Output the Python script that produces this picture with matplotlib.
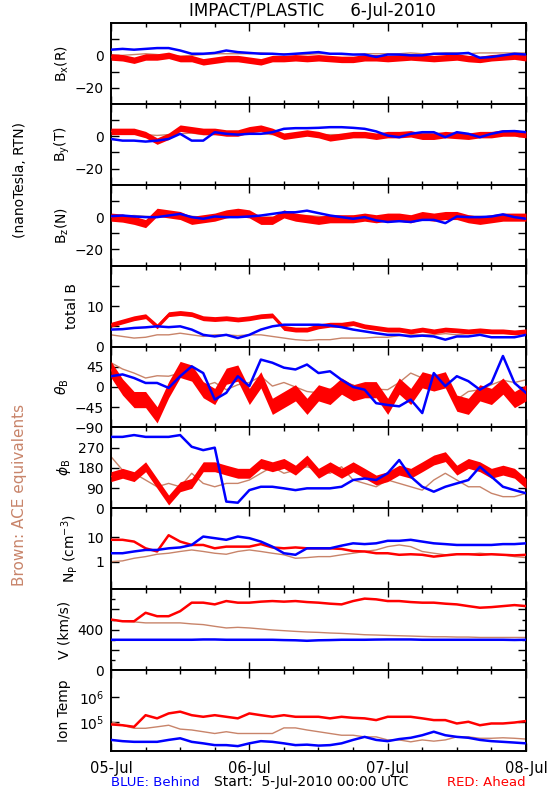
import numpy as np
import pandas as pd
import matplotlib
matplotlib.use('Agg')
import matplotlib.pyplot as plt
import matplotlib.dates as mdates
from matplotlib.ticker import FixedLocator, NullFormatter

# sample times, every 2 hours over 5-Jul .. 8-Jul 2010
times = pd.date_range('2010-07-05 00:00', '2010-07-08 00:00', freq='2h')

# B_x (R), nT
blue_bx = [3.5, 4, 3.5, 4, 4.5, 4.5, 3, 1, 1, 1.5, 3, 2, 1.5, 1, 1, 0.5, 1, 1.5, 2, 1,
           1, 0.5, 0.5, -1, 0.5, 0.5, 0, 0, 1, 1, 1, 1.5, -1.5, -1, 0, 1, 0.5]
red_bx = [-1, -1.5, -3, -1, -1, 0, -2, -2, -4, -3, -2, -2, -3, -4, -2, -2, -1.5, -2, -1.5, -2,
          -2.5, -2.5, -1.5, -1.5, -2, -1.5, -1, -1.5, -2, -1.5, -1, -2, -2.5, -1.5, -1, -0.5, -1.5]
brown_bx = [0, 0, 0.5, 1, 0.5, 0, -0.5, 0, 0.5, 1, 1, 1, 1, 1.5, 1, 1, 0.5, 0.5, 1, 1,
            0.5, 0.5, 1, 1, 1, 1, 1.5, 1, 1, 1.5, 1.5, 1, 1.5, 1.5, 1.5, 1.5, 1.5]

# B_y (T)
blue_by = [-1.7, -2.7, -2.7, -3.3, -2.7, -1.7, 1.5, -2.7, -2.7, 2.5, 1.5, 1, 1.5, 1.5, 2.5, 4.6, 5, 5, 5.2, 5.6,
           5.6, 5.2, 4.6, 3, 0.4, -0.6, 1.5, 2.5, 2.5, -0.6, 2.5, 1.5, -0.6, 1.5, 3, 3.2, 2.5]
red_by = [3, 3, 3, 1, -3, 0, 5, 4, 3, 3, 2, 2, 4, 5, 3, 0, 1, 2, 1, -1,
          0, 1, 1, 0, 1, 1, 1.5, 0, 0, 1, 0.5, 0, 1, 1, 2, 2, 1]
brown_by = [2, 2, 1.5, 1, 0.5, 1, 1.5, 2, 1, 1, 1, 1.5, 2, 1.5, 1, 1, 1, 0.5, 1, 1,
            1, 1.5, 1, 0.5, 1, 1, 1, 1.5, 2, 1.5, 1, 1, 1, 1, 1.5, 1, 1]

# B_z (N)
blue_bz = [0.6, 1, 0.4, 0, 0, 1, 2, 0, -1, 0.4, 0, 0, 0.4, 1, 2, 3, 3, 4, 2.5, 1,
           0, -1, 0, -2, -3, -2.5, -3, -1.7, -1.7, -3.7, 0.4, 0, 0, 0.4, 1.7, 0, -1]
red_bz = [0, -0.6, -2, -4, 3, 2, 1, -2, -1, 0, 2, 3, 2, -2, -2, 2, 0, -1, -2, -1,
          -1, -1, 0, -1, 0, 0, -1, 1, 0, 1, 1, -1, -2, -1, 0, 0, 0]
brown_bz = [0.5, 0.5, 1, 0.5, 0, 0.5, 1, 0.5, 0, 0.5, 1, 1, 0.5, 0, 0, 0.5, 1, 1, 0.5, 0,
            0, 0.5, 0.5, 0, 0, 0.5, 0.5, 0, 0.5, 0.5, 1, 0.5, 0.5, 0, 0.5, 0.5, 0.5]

# total B
red_bt = [5.4, 6.2, 7, 7.5, 5, 8, 8.3, 8, 7, 6.8, 7, 6.7, 7, 7.5, 7.7, 4.6, 4.2, 4.2, 5, 5.4,
          5.4, 5.8, 5, 4.6, 4.2, 4.2, 3.75, 4.2, 3.75, 4.2, 4, 3.75, 4, 3.75, 3.75, 3.5, 3.75]
blue_bt = [4.2, 4.3, 4.6, 4.75, 5, 4.8, 5, 4.2, 2.9, 2.5, 2.9, 2.1, 2.9, 4.2, 5, 5.4, 5.4, 5.4, 5.4, 5.2,
           4.8, 4.2, 3.75, 3.3, 2.9, 2.9, 2.5, 2.7, 2.5, 1.7, 2.5, 2.5, 2.9, 2.3, 2.3, 2.3, 2.9]
brown_bt = [2.9, 2.5, 2.1, 2.3, 2.9, 2.9, 3.3, 2.9, 2.5, 2.9, 2.9, 2.7, 2.9, 2.9, 2.5, 2.1, 1.7, 1.5, 1.7, 1.7,
            2.1, 2.1, 2.1, 2.3, 2.3, 2.7, 2.9, 2.9, 2.9, 3.2, 2.9, 3.2, 3.2, 3.3, 3.3, 3.3, 3.3]

# theta_B, degrees
blue_th = [24, 28, 20, 9, 9, -2, 24, 46, 31, -28, -13, 24, 2, 61, 54, 43, 39, 50, 31, 35,
           16, 0, -6, -36, -40, -43, -28, -58, 31, 2, 24, 13, -6, 9, 69, 9, -13]
red_th = [39, 0, -28, -28, -62, -6, 39, 31, -6, -21, 24, 31, -21, 16, -43, -28, -13, -43, -13, -21,
          2, -13, -6, -6, -43, 2, -21, 16, 9, 16, -36, -43, -13, -21, 2, -28, -13]
brown_th = [54, 40, 31, 20, 25, 24, 31, 16, 2, 10, -6, 5, 10, 24, 2, 10, 0, -10, -13, -5,
            9, 5, -13, -5, -6, 10, 31, 20, 9, 5, -28, -10, -6, 5, 15, 10, 16]

# phi_B, degrees
blue_ph = [318, 318, 326, 318, 318, 318, 326, 274, 259, 270, 30, 25, 81, 96, 96, 89, 81, 89, 89, 89,
           96, 126, 133, 126, 156, 215, 141, 96, 74, 96, 111, 126, 185, 141, 96, 81, 67]
red_ph = [141, 156, 141, 185, 111, 37, 96, 111, 185, 185, 170, 156, 156, 200, 185, 200, 170, 215, 156, 185,
          156, 185, 156, 126, 141, 170, 156, 185, 215, 230, 170, 200, 185, 156, 170, 156, 111]
brown_ph = [230, 170, 156, 126, 96, 111, 96, 156, 111, 96, 111, 111, 126, 156, 185, 156, 170, 185, 170, 156,
            185, 126, 111, 96, 126, 111, 96, 81, 126, 156, 126, 96, 96, 67, 52, 52, 67]

# proton density, cm^-3
red_np = [7.8, 7.8, 6.6, 3.5, 2.6, 12, 6.6, 4.8, 4.8, 3.5, 4.1, 4.1, 4.1, 5.2, 3.8, 3.5, 3.8, 3.5, 3.5, 3.5,
          3.3, 2.7, 2.6, 2.2, 2.2, 1.9, 2.0, 1.9, 1.6, 1.8, 2.0, 2.0, 1.9, 2.0, 1.9, 1.8, 1.9]
blue_np = [2.2, 2.2, 2.6, 3.0, 3.0, 3.5, 3.8, 4.8, 10.6, 9.1, 7.8, 10.6, 9.1, 6.6, 4.1, 2.2, 1.9, 3.5, 3.5, 3.5,
           4.5, 5.6, 5.2, 5.6, 7.1, 7.1, 7.8, 6.6, 5.6, 5.2, 4.8, 4.8, 4.8, 4.8, 5.2, 5.2, 5.6]
brown_np = [1.0, 1.07, 1.37, 1.6, 2.0, 2.2, 2.6, 3.0, 2.6, 2.2, 2.0, 2.6, 3.0, 2.6, 2.2, 1.9, 1.37, 1.46, 1.6, 1.6,
            1.9, 2.2, 2.6, 3.0, 4.1, 4.8, 4.1, 2.6, 2.2, 1.9, 2.0, 2.0, 2.2, 2.0, 1.9, 1.6, 1.46]

# bulk speed, km/s
red_v = [500, 483, 483, 567, 533, 533, 583, 667, 667, 650, 683, 667, 667, 677, 683, 677, 683, 673, 667, 657,
         650, 683, 707, 700, 683, 683, 673, 667, 667, 657, 650, 633, 617, 623, 633, 643, 633]
brown_v = [500, 483, 477, 467, 467, 467, 467, 457, 450, 433, 417, 423, 417, 407, 397, 390, 383, 377, 373, 367,
           363, 357, 350, 347, 343, 340, 337, 333, 330, 330, 327, 327, 323, 323, 323, 323, 323]
blue_v = [300, 300, 300, 300, 300, 300, 300, 300, 303, 303, 300, 300, 300, 300, 300, 297, 295, 290, 295, 297,
          300, 300, 300, 302, 303, 303, 303, 300, 300, 300, 300, 300, 300, 300, 300, 298, 300]

# ion temperature, K
red_T = [7.8e4, 7.2e4, 6.2e4, 1.86e5, 1.38e5, 2.2e5, 2.6e5, 1.86e5, 1.6e5, 1.86e5,
         1.6e5, 1.38e5, 2.2e5, 1.86e5, 1.6e5, 1.86e5, 1.6e5, 1.6e5, 1.6e5, 1.38e5,
         1.6e5, 1.45e5, 1.38e5, 1.17e5, 1.6e5, 1.6e5, 1.6e5, 1.38e5, 1.17e5, 1.17e5,
         8.5e4, 1.0e5, 7.2e4, 8.5e4, 8.5e4, 9.3e4, 1.07e5]
brown_T = [1.0e5, 7.2e4, 5.4e4, 5.4e4, 6.2e4, 7.2e4, 5.0e4, 4.6e4, 3.9e4, 3.3e4,
           3.9e4, 3.3e4, 3.3e4, 3.3e4, 3.3e4, 5.6e4, 5.6e4, 4.6e4, 3.9e4, 3.3e4,
           2.8e4, 2.8e4, 2.4e4, 2.4e4, 1.8e4, 1.8e4, 1.5e4, 1.8e4, 1.6e4, 1.8e4,
           2.4e4, 2.4e4, 2.1e4, 2.1e4, 2.2e4, 2.1e4, 1.95e4]
blue_T = [1.8e4, 1.6e4, 1.5e4, 1.5e4, 1.5e4, 1.8e4, 2.1e4, 1.5e4, 1.3e4, 1.1e4,
          1.1e4, 1.0e4, 1.3e4, 1.6e4, 1.5e4, 1.3e4, 1.1e4, 1.15e4, 1.05e4, 1.1e4,
          1.3e4, 1.8e4, 2.4e4, 1.8e4, 1.6e4, 1.95e4, 2.2e4, 2.8e4, 3.9e4, 2.8e4,
          2.4e4, 2.2e4, 1.8e4, 1.6e4, 1.5e4, 1.4e4, 1.3e4]

# typical scatter of the red (Ahead) data about its running value
red_spread = {'bx': 2, 'by': 2, 'bz': 2.5, 'bt': 0.6, 'th': 18, 'ph': 22}

RED = '#ff0000'
BLUE = '#0000ff'
BROWN = '#c8846a'

fig = plt.figure(figsize=(5.5, 8), dpi=100)
W, H = 550.0, 800.0
x0, x1 = 111, 526
top, bot = 23, 751
ph = (bot - top) / 9.0

panels = [
    # brown, red, blue, spread key, ylim, ticks, labels, minor, log, ylabel, label x
    (brown_bx, red_bx, blue_bx, 'bx', (-30, 20), [-20, -10, 0, 10], ['\u221220', '', '0', ''], None, False,
     r'B$_\mathregular{x}$(R)', 62),
    (brown_by, red_by, blue_by, 'by', (-30, 20), [-20, -10, 0, 10], ['\u221220', '', '0', ''], None, False,
     r'B$_\mathregular{y}$(T)', 62),
    (brown_bz, red_bz, blue_bz, 'bz', (-30, 20), [-20, -10, 0, 10], ['\u221220', '', '0', ''], None, False,
     r'B$_\mathregular{z}$(N)', 62),
    (brown_bt, red_bt, blue_bt, 'bt', (0, 20), [0, 5, 10, 15], ['0', '', '10', ''], None, False,
     'total B', 72),
    (brown_th, red_th, blue_th, 'th', (-90, 90), [-90, -45, 0, 45], ['\u221290', '\u221245', '0', '45'], None, False,
     r'$\theta_\mathregular{B}$', 62),
    (brown_ph, red_ph, blue_ph, 'ph', (0, 360), [0, 90, 180, 270], ['0', '90', '180', '270'], None, False,
     r'$\phi_\mathregular{B}$', 64),
    (brown_np, red_np, blue_np, None, (10 ** -1.13, 10 ** 2.18), [1, 10], ['1', '10'], 'log', True,
     r'N$_\mathregular{P}$ (cm$^\mathregular{-3}$)', 70),
    (brown_v, red_v, blue_v, None, (0, 800), [0, 200, 400, 600], ['0', '', '400', ''], [100, 300, 500, 700], False,
     'V (km/s)', 64),
    (brown_T, red_T, blue_T, None, (10 ** 3.8, 10 ** 7.12), [1e5, 1e6], [r'10$^\mathregular{5}$', r'10$^\mathregular{6}$'],
     'log', True, 'Ion Temp', 64),
]

axes = []
for i, (br, rd, bl, sk, ylim, ticks, labels, minor, logy, ylab, lx) in enumerate(panels):
    y_top = top + i * ph
    ax = fig.add_axes([x0 / W, 1 - (y_top + ph) / H, (x1 - x0) / W, ph / H])
    if logy:
        ax.set_yscale('log')
    ax.plot(times, br, color=BROWN, lw=1.0, zorder=2)
    if sk is not None:
        r = np.array(rd, dtype=float)
        ax.fill_between(times, r - red_spread[sk], r + red_spread[sk], color=RED, lw=0, zorder=3)
        ax.plot(times, rd, color=RED, lw=1.0, zorder=3)
    else:
        ax.plot(times, rd, color=RED, lw=1.8, zorder=3)
    ax.plot(times, bl, color=BLUE, lw=1.8, zorder=4)

    ax.set_ylim(*ylim)
    ax.set_xlim(times[0], times[-1])
    ax.yaxis.set_major_locator(FixedLocator(ticks))
    ax.set_yticklabels(labels)
    if minor == 'log':
        pass
    elif minor is not None:
        ax.yaxis.set_minor_locator(FixedLocator(minor))
    else:
        ax.yaxis.set_minor_locator(FixedLocator([]))
    ax.yaxis.set_minor_formatter(NullFormatter())

    ax.xaxis.set_major_locator(mdates.DayLocator())
    ax.xaxis.set_minor_locator(mdates.HourLocator(byhour=[6, 12, 18]))
    ax.xaxis.set_major_formatter(mdates.DateFormatter('%d-%b'))
    ax.tick_params(which='both', direction='in', top=True, right=True, labelsize=10)
    ax.tick_params(which='major', length=6, width=1)
    ax.tick_params(which='minor', length=3, width=1)
    ax.tick_params(axis='y', pad=5)
    if i < 8:
        ax.tick_params(labelbottom=False)
    else:
        ax.tick_params(axis='x', pad=7, labelsize=10.5)
    for s in ax.spines.values():
        s.set_linewidth(1.4)

    fig.text(lx / W, 1 - (y_top + ph / 2) / H, ylab, rotation=90, ha='center', va='center', fontsize=10)
    axes.append(ax)

fig.text(312 / W, 1 - 11 / H, 'IMPACT/PLASTIC     6-Jul-2010', ha='center', va='center', fontsize=12)
fig.text(20 / W, 1 - 180 / H, '(nanoTesla, RTN)', rotation=90, ha='center', va='center', fontsize=10)
fig.text(20 / W, 1 - 495 / H, 'Brown: ACE equivalents', rotation=90, ha='center', va='center',
         fontsize=11, color=BROWN)
fig.text(111 / W, 1 - 782 / H, 'BLUE: Behind', ha='left', va='center', fontsize=9.5, color=BLUE)
fig.text(214 / W, 1 - 782 / H, 'Start:  5-Jul-2010 00:00 UTC', ha='left', va='center', fontsize=10)
fig.text(526 / W, 1 - 782 / H, 'RED: Ahead', ha='right', va='center', fontsize=9.5, color=RED)

fig.savefig('out.png', dpi=100)
